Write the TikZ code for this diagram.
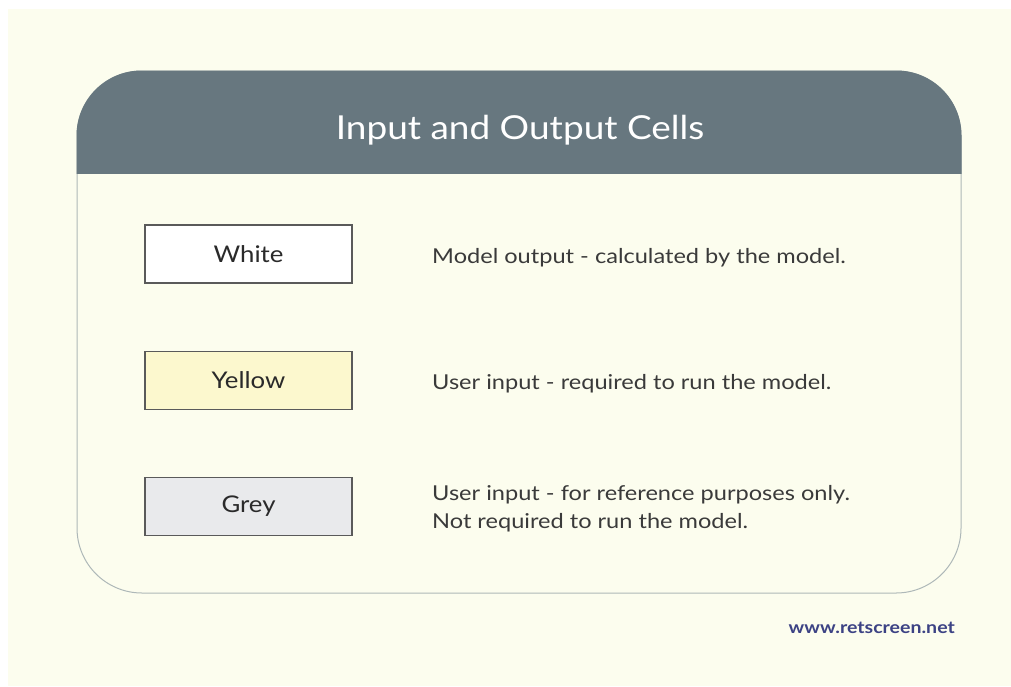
\documentclass[tikz,border=0pt]{standalone}
\usepackage{fontspec}
\setmainfont{Lato}
\newfontfamily\widefont[FakeStretch=1.15]{Lato}
\newfontfamily\titlefont[FakeStretch=1.12]{Lato}
\definecolor{pagecream}{HTML}{FCFDEE}
\definecolor{headerslate}{HTML}{67777F}
\definecolor{panelline}{HTML}{AEB8B8}
\definecolor{boxline}{HTML}{5A5A5A}
\definecolor{celltext}{HTML}{2A2A2A}
\definecolor{desctext}{HTML}{3A3A3A}
\definecolor{cellyellow}{HTML}{FCF8CE}
\definecolor{cellgrey}{HTML}{E9EAEC}
\definecolor{urlblue}{HTML}{3C4284}
\tikzset{
  cellbox/.style={draw=boxline, line width=1.6pt, minimum width=207pt, minimum height=58pt,
    inner sep=0pt, text=celltext, font=\titlefont\fontsize{23}{26}\selectfont},
  desc/.style={anchor=base west, inner sep=0pt, text=desctext, font=\widefont\fontsize{20.5}{28}\selectfont},
}
\begin{document}
\begin{tikzpicture}[x=1pt, y=-1pt]
  % page and cream background
  \useasboundingbox (0,0) rectangle (1011,686);
  \fill[white] (0,0) rectangle (1011,686);
  \fill[pagecream] (8,9) rectangle (1011,686);

  % rounded panel with slate header band
  \draw[panelline, line width=1pt, rounded corners=65pt] (77,71) rectangle (961,593);
  \begin{scope}
    \clip (70,60) rectangle (970,173);
    \fill[headerslate, rounded corners=65pt] (76.5,70.5) rectangle (961.5,593);
  \end{scope}
  \node[anchor=base, inner sep=0pt, text=white, font=\titlefont\fontsize{33}{40}\selectfont]
    (title) at (520,139) {Input and Output Cells};

  % legend cells
  \node[cellbox, fill=white] (white) at (248.5,254) {White};
  \node[cellbox, fill=cellyellow] (yellow) at (248.5,380.5) {Yellow};
  \node[cellbox, fill=cellgrey] (grey) at (248.5,506.5) {Grey};

  % explanations
  \node[desc] (whitedesc) at (432,263) {Model output - calculated by the model.};
  \node[desc] (yellowdesc) at (432,389) {User input - required to run the model.};
  \node[desc] (greydesc) at (432,500) {User input - for reference purposes only.};
  \node[desc] (greydesc2) at (432,528) {Not required to run the model.};

  % web address
  \node[anchor=base east, inner sep=0pt, text=urlblue, font=\widefont\bfseries\fontsize{17}{20}\selectfont]
    (url) at (955,633) {www.retscreen.net};
\end{tikzpicture}
\end{document}
